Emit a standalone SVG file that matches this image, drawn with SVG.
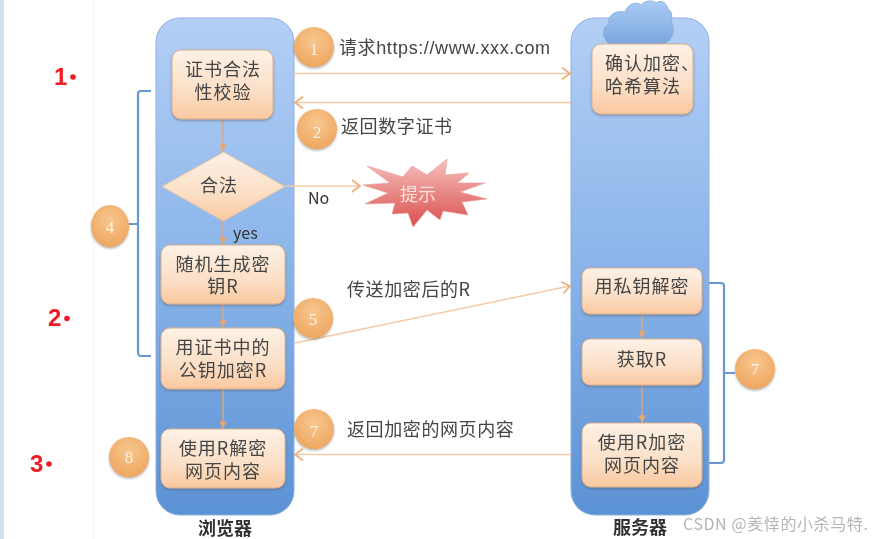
<svg xmlns="http://www.w3.org/2000/svg" width="872" height="539" viewBox="0 0 872 539">
<style>
text{font-family:"Noto Sans CJK SC","Liberation Sans",sans-serif}
.t{font-size:18px;fill:#444;text-anchor:middle;letter-spacing:1px}
.l{font-size:18px;fill:#444;letter-spacing:.6px}
.n{font-size:17px;fill:#fdf3e6;text-anchor:middle;font-family:"Liberation Serif",serif}
.r{font-size:24px;font-weight:bold;fill:#f01c24;font-family:"Liberation Sans",sans-serif}
.box{fill:url(#box);stroke:#d8b190;stroke-width:1;filter:url(#sh)}
.col{fill:url(#col);stroke:#8fb0dc;stroke-width:1}
.c{fill:url(#circ);filter:url(#sh)}
.a{fill:none;stroke:#f3cba6;stroke-width:1.6}
.v{fill:none;stroke:#e0a878;stroke-width:1.4}
.br{fill:none;stroke:#6a97cf;stroke-width:2.200}
</style>
<defs>
<linearGradient id="col" x1="0" y1="0" x2="0" y2="1"><stop offset="0" stop-color="#b3cff6"/><stop offset=".5" stop-color="#8ab4e9"/><stop offset="1" stop-color="#5b92d5"/></linearGradient>
<linearGradient id="box" x1="0" y1="0" x2="0" y2="1"><stop offset="0" stop-color="#fdf1e6"/><stop offset=".6" stop-color="#fbdfc6"/><stop offset="1" stop-color="#fac89f"/></linearGradient>
<radialGradient id="circ" cx=".5" cy=".35" r=".7"><stop offset="0" stop-color="#f8c78f"/><stop offset="1" stop-color="#eda45c"/></radialGradient>
<linearGradient id="star" x1="0" y1="0" x2="0" y2="1"><stop offset="0" stop-color="#f7c0bd"/><stop offset="1" stop-color="#d9504e"/></linearGradient>
<linearGradient id="cloud" x1="0" y1="0" x2="0" y2="1"><stop offset="0" stop-color="#a9ccf4"/><stop offset="1" stop-color="#7ba7df"/></linearGradient>
<filter id="sh" x="-20%" y="-20%" width="140%" height="140%"><feDropShadow dx="0" dy="1.5" stdDeviation="1.2" flood-color="#555" flood-opacity=".45"/></filter>
<filter id="soft" x="0" y="0" width="100%" height="100%" filterUnits="userSpaceOnUse"><feGaussianBlur stdDeviation=".5"/></filter>
<marker id="m" viewBox="0 0 10 14" refX="9" refY="7" markerWidth="10" markerHeight="14" markerUnits="userSpaceOnUse" orient="auto"><path d="M1 1L9 7L1 13" fill="none" stroke="#eeae74" stroke-width="1.600"/></marker>
<marker id="d" viewBox="0 0 10 8" refX="9" refY="4" markerWidth="9" markerHeight="7" markerUnits="userSpaceOnUse" orient="auto"><path d="M0 0L9 4L0 8Z" fill="#e8a56d"/></marker>
</defs>
<rect width="872" height="539" fill="#fff"/>
<rect x="0" y="0" width="4" height="539" fill="#d4e0f2"/>
<line x1="93.500" y1="0" x2="93.500" y2="539" stroke="#f6f6f6"/>
<g filter="url(#soft)">
<g id="browser"><rect class="col" x="156" y="18" width="138" height="497" rx="24"/><text x="225" y="535" text-anchor="middle" font-size="18" font-weight="bold" fill="#333">浏览器</text></g>
<g id="server"><rect class="col" x="571" y="18" width="138" height="497" rx="24"/><text x="640" y="534" text-anchor="middle" font-size="18" font-weight="bold" fill="#333">服务器</text></g>
<path id="cloud-shape" d="M609 44C602 38 601 28 609 24C607 15 616 10 625 12C628 4 636 1 641 5C646 0 652 0 656 3C662 -1 666 3 668 9C673 12 672 18 671 22C676 30 673 40 664 44Z" fill="url(#cloud)" stroke="#8fb0dc"/>
<g id="connectors">
<path class="a" marker-end="url(#m)" d="M294 73.500H570"/>
<path class="a" marker-end="url(#m)" d="M571 102.500H295"/>
<path class="a" marker-end="url(#m)" d="M285 186H360"/>
<path class="a" marker-end="url(#m)" d="M295 343L570 286"/>
<path class="a" marker-end="url(#m)" d="M571 454.500H295"/>
<path class="v" marker-end="url(#d)" d="M223 119V152"/>
<path class="v" marker-end="url(#d)" d="M223 221V245"/>
<path class="v" marker-end="url(#d)" d="M223 304V328"/>
<path class="v" marker-end="url(#d)" d="M223 389V429"/>
<path class="v" marker-end="url(#d)" d="M642 314V339"/>
<path class="v" marker-end="url(#d)" d="M642 385V423"/>
<path class="br" d="M151 91H141Q138 91 138 94V352Q138 356 141 356H151M138 224H129"/>
<path class="br" d="M709 283H721Q724 283 724 286V460Q724 463 721 463H709M724 373H735"/>
</g>
<g id="n-verify"><rect class="box" x="172" y="50" width="101" height="69" rx="9"/><text class="t" x="223" y="76">证书合法</text><text class="t" x="223" y="99">性校验</text></g>
<g id="n-valid"><path d="M223.500 152L285 186.500L223.500 221L162 186.500Z" fill="url(#box)" stroke="#e8c4a0"/><text class="t" x="219" y="192">合法</text></g>
<g id="n-random"><rect class="box" x="161" y="245" width="124" height="59" rx="9"/><text class="t" x="223" y="271">随机生成密</text><text class="t" x="223" y="293">钥R</text></g>
<g id="n-encrypt"><rect class="box" x="161" y="328" width="124" height="61" rx="9"/><text class="t" x="223" y="354">用证书中的</text><text class="t" x="223" y="377">公钥加密R</text></g>
<g id="n-decrypt"><rect class="box" x="161" y="429" width="124" height="59" rx="9"/><text class="t" x="223" y="455">使用R解密</text><text class="t" x="223" y="478">网页内容</text></g>
<g id="n-confirm"><rect class="box" x="592" y="44" width="101" height="70" rx="9"/><text class="t" x="605" y="70" style="text-anchor:start">确认加密、</text><text class="t" x="605" y="93" style="text-anchor:start">哈希算法</text></g>
<g id="n-private"><rect class="box" x="582" y="268" width="120" height="46" rx="8"/><text class="t" x="642" y="293">用私钥解密</text></g>
<g id="n-getr"><rect class="box" x="582" y="339" width="120" height="46" rx="8"/><text class="t" x="642" y="366">获取R</text></g>
<g id="n-encr"><rect class="box" x="582" y="423" width="120" height="64" rx="9"/><text class="t" x="642" y="449">使用R加密</text><text class="t" x="642" y="472">网页内容</text></g>
<g id="c1"><circle class="c" cx="314" cy="47" r="20"/><text class="n" x="314" y="55">1</text></g>
<g id="c2"><circle class="c" cx="317" cy="129" r="20"/><text class="n" x="317" y="138">2</text></g>
<g id="c4"><ellipse class="c" cx="110" cy="226" rx="19" ry="21"/><text class="n" x="110" y="233">4</text></g>
<g id="c5"><circle class="c" cx="313" cy="318" r="20"/><text class="n" x="313" y="325">5</text></g>
<g id="c7a"><circle class="c" cx="314" cy="429" r="20"/><text class="n" x="314" y="437">7</text></g>
<g id="c8"><circle class="c" cx="129" cy="457" r="20"/><text class="n" x="129" y="463">8</text></g>
<g id="c7b"><circle class="c" cx="755" cy="369" r="20"/><text class="n" x="755" y="375">7</text></g>
<g id="alert"><path d="M367 166L403 177L412 166L427 175L447 159L445 175L469 173L457 183L485 183L460 192L487 199L462 202L468 215L443 211L440 220L427 210L413 227L408 213L392 214L395 203L365 204L388 193L363 185L390 183Z" fill="url(#star)" stroke="#e9a09e" stroke-width=".7"/><text x="418" y="201" text-anchor="middle" font-size="18" fill="#fbe3e0">提示</text></g>
<text class="l" x="339" y="54">请求<tspan font-family="Liberation Sans">https://www.xxx.com</tspan></text>
<text class="l" x="341" y="133">返回数字证书</text>
<text x="308" y="204" font-size="16" fill="#333" font-family="Liberation Sans">No</text>
<text x="233" y="239" font-size="16" fill="#333" font-family="Liberation Sans">yes</text>
<text class="l" x="347" y="296">传送加密后的R</text>
<text class="l" x="347" y="436">返回加密的网页内容</text>
</g>
<text class="r" x="54" y="85">1</text><circle cx="73" cy="77" r="2.800" fill="#f01c24"/>
<text class="r" x="48" y="326">2</text><circle cx="67" cy="318.500" r="2.800" fill="#f01c24"/>
<text class="r" x="30" y="472">3</text><circle cx="49" cy="464" r="2.800" fill="#f01c24"/>
<text x="683" y="530" font-size="16" letter-spacing=".6" fill="#b5b5b5">CSDN @羑悻的小杀马特.</text>
</svg>
